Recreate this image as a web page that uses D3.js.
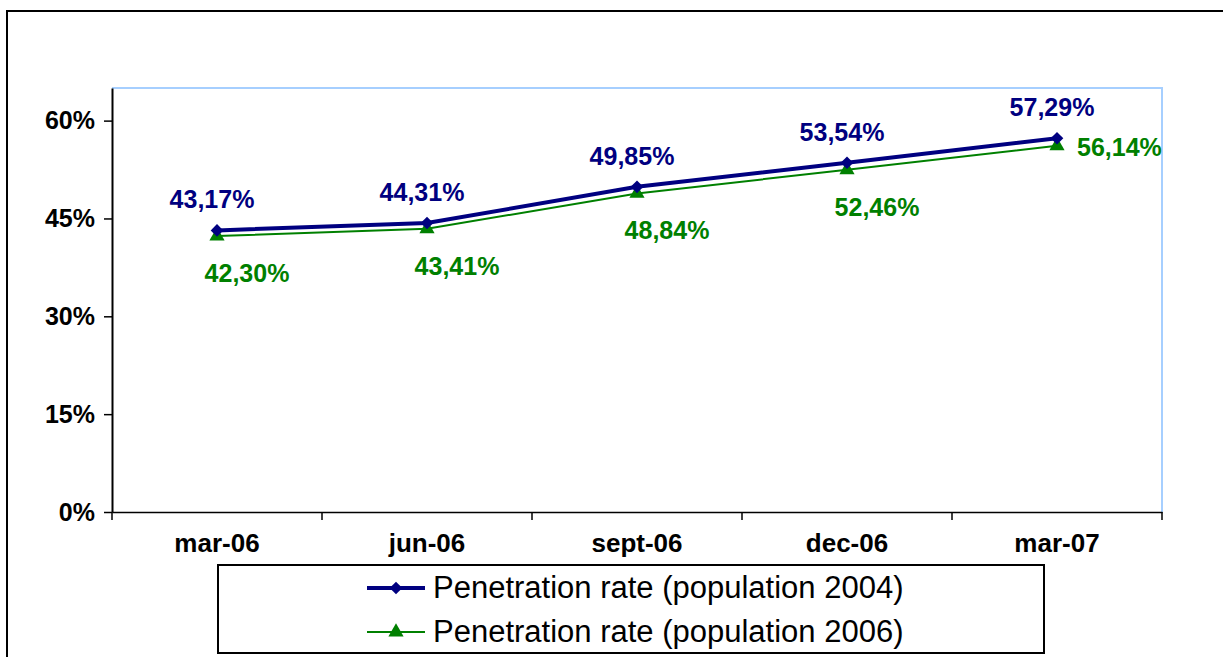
<html>
<head>
<meta charset="utf-8">
<title>Penetration rate</title>
<script src="https://cdn.jsdelivr.net/npm/d3@7"></script>
<style>
  body { margin: 0; background: #fff; }
  svg text { font-family: Arial, "Liberation Sans", sans-serif; }
</style>
</head>
<body>
<div id="chart"></div>
<script>

var categories = ["mar-06", "jun-06", "sept-06", "dec-06", "mar-07"];
var pop2004 = [0.4317, 0.4431, 0.4985, 0.5354, 0.5729];
var pop2006 = [0.4230, 0.4341, 0.4884, 0.5246, 0.5614];
var yTicks = [0, 0.15, 0.30, 0.45, 0.60];
var seriesNames = ["Penetration rate (population 2004)", "Penetration rate (population 2006)"];

var width = 1223, height = 657;
var plot = { left: 112, top: 88, right: 1162, bottom: 512 };

var euro = d3.formatLocale({ decimal: ",", thousands: ".", grouping: [3], currency: ["", "\u20ac"] });
var fmtLabel = euro.format(".2%");
var fmtTick = d3.format(".0%");

var svg = d3.select("#chart").append("svg")
	.attr("width", width)
	.attr("height", height);

// outer frame
svg.append("rect")
	.attr("x", 7).attr("y", 11)
	.attr("width", 1240).attr("height", 700)
	.attr("fill", "#fff")
	.attr("stroke", "#000")
	.attr("stroke-width", 2);

var x = d3.scaleBand()
	.domain(categories)
	.range([plot.left, plot.right])
	.padding(0);

var y = d3.scaleLinear()
	.domain([0, 0.65])
	.range([plot.bottom, plot.top]);

// plot area border (top and right)
svg.append("path")
	.attr("d", "M" + plot.left + "," + plot.top + "H" + plot.right + "V" + plot.bottom)
	.attr("fill", "none")
	.attr("stroke", "#a6cfff")
	.attr("stroke-width", 2);

// y axis
var yAxis = svg.append("g")
	.attr("transform", "translate(" + plot.left + ",0)")
	.call(d3.axisLeft(y).tickValues(yTicks).tickFormat(fmtTick).tickSize(8).tickPadding(9).tickSizeOuter(0));
yAxis.select(".domain").attr("stroke", "#000").attr("stroke-width", 2);
yAxis.selectAll(".tick line").attr("stroke", "#000").attr("stroke-width", 1.5);
yAxis.selectAll(".tick text")
	.attr("font-size", 25)
	.attr("font-weight", "bold")
	.attr("fill", "#000");

// x axis
var xAxis = svg.append("g")
	.attr("transform", "translate(0," + plot.bottom + ")")
	.call(d3.axisBottom(x).tickSize(0).tickPadding(22).tickSizeOuter(0));
xAxis.select(".domain").attr("stroke", "#000").attr("stroke-width", 1.5);
xAxis.selectAll(".tick text")
	.attr("font-size", 26)
	.attr("font-weight", "bold")
	.attr("fill", "#000");

// boundary ticks between categories
var bounds = categories.map(function(c) { return x(c); }).concat([plot.right]);
xAxis.selectAll("line.bound")
	.data(bounds)
	.enter()
	.append("line")
	.attr("class", "bound")
	.attr("x1", function(d) { return d; })
	.attr("x2", function(d) { return d; })
	.attr("y1", 0)
	.attr("y2", 8)
	.attr("stroke", "#000")
	.attr("stroke-width", 1.5);

var cx = function(i) { return x(categories[i]) + x.bandwidth() / 2; };

var series = [
	{ name: seriesNames[0], values: pop2004, color: "#000080", width: 4, symbol: "diamond" },
	{ name: seriesNames[1], values: pop2006, color: "#008000", width: 2, symbol: "triangle" }
];

function marker(sel, s) {
	if (s.symbol === "diamond") {
		sel.attr("d", d3.symbol(d3.symbolSquare, 80)())
			.attr("fill", s.color);
	} else {
		sel.attr("d", d3.symbol(d3.symbolTriangle, 100)())
			.attr("fill", s.color);
	}
}

var line = d3.line()
	.x(function(d, i) { return cx(i); })
	.y(function(d) { return y(d); });

// draw 2006 first so 2004 sits on top
series.slice().reverse().forEach(function(s) {
	svg.append("path")
		.datum(s.values)
		.attr("d", line)
		.attr("fill", "none")
		.attr("stroke", s.color)
		.attr("stroke-width", s.width);

	svg.selectAll(null)
		.data(s.values)
		.enter()
		.append("path")
		.attr("transform", function(d, i) {
			return "translate(" + cx(i) + "," + y(d) + ")" + (s.symbol === "diamond" ? " rotate(45)" : "");
		})
		.call(marker, s);
});

// data labels 2004: above
svg.selectAll("text.lab04")
	.data(pop2004)
	.enter()
	.append("text")
	.attr("class", "lab04")
	.attr("x", function(d, i) { return cx(i) - 5; })
	.attr("y", function(d) { return y(d) - 22; })
	.attr("text-anchor", "middle")
	.attr("font-size", 25)
	.attr("font-weight", "bold")
	.attr("fill", "#000080")
	.text(function(d) { return fmtLabel(d); });

// data labels 2006: below, last one to the right
svg.selectAll("text.lab06")
	.data(pop2006)
	.enter()
	.append("text")
	.attr("class", "lab06")
	.attr("x", function(d, i) { return i === pop2006.length - 1 ? cx(i) + 20 : cx(i) + 30; })
	.attr("y", function(d, i) { return i === pop2006.length - 1 ? y(d) + 10 : y(d) + 46; })
	.attr("text-anchor", function(d, i) { return i === pop2006.length - 1 ? "start" : "middle"; })
	.attr("font-size", 25)
	.attr("font-weight", "bold")
	.attr("fill", "#008000")
	.text(function(d) { return fmtLabel(d); });

// legend
var legend = svg.append("g");
legend.append("rect")
	.attr("x", 218).attr("y", 565)
	.attr("width", 826).attr("height", 88)
	.attr("fill", "#fff")
	.attr("stroke", "#000")
	.attr("stroke-width", 2);

var rows = legend.selectAll("g.row")
	.data(series)
	.enter()
	.append("g")
	.attr("class", "row")
	.attr("transform", function(d, i) { return "translate(0," + (588 + i * 44) + ")"; });

rows.append("line")
	.attr("x1", 367).attr("x2", 425)
	.attr("y1", 0).attr("y2", 0)
	.attr("stroke", function(d) { return d.color; })
	.attr("stroke-width", function(d) { return d.width; });

rows.append("path")
	.attr("transform", function(d) { return "translate(396,0)" + (d.symbol === "diamond" ? " rotate(45)" : ""); })
	.each(function(d) { d3.select(this).call(marker, d); });

rows.append("text")
	.attr("x", 433)
	.attr("y", 10)
	.attr("font-size", 31)
	.attr("fill", "#000")
	.text(function(d) { return d.name; });
</script>
</body>
</html>
